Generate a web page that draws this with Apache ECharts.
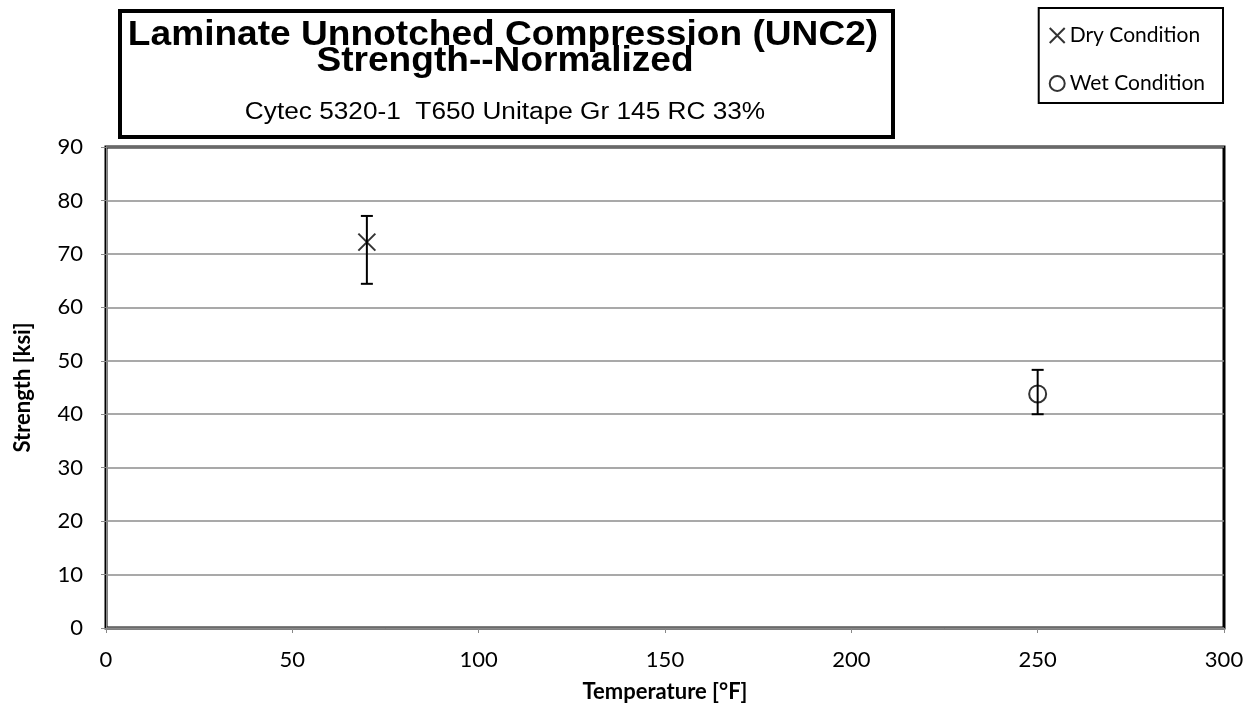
<!DOCTYPE html>
<html><head><meta charset="utf-8">
<script src="https://cdn.jsdelivr.net/npm/echarts@6/dist/echarts.min.js"></script>
<style>html,body{margin:0;padding:0;background:#fff}#c{width:1257px;height:709px}</style>
</head><body><div id="c"></div>
<script>
const titleLine1 = 'Laminate Unnotched Compression (UNC2)';
const titleLine2 = 'Strength--Normalized';
const subTitle = 'Cytec 5320-1  T650 Unitape Gr 145 RC 33%';
const xName = 'Temperature [°F]';
const yName = 'Strength [ksi]';
const seriesNames = ['Dry Condition', 'Wet Condition'];

const dryTemp = [70];
const dryMean = [72.2];
const dryLow = [64.4];
const dryHigh = [77.1];

const wetTemp = [250];
const wetMean = [43.8];
const wetLow = [40.0];
const wetHigh = [48.3];

const xMin = 0, xMax = 300, xStep = 50;
const yMin = 0, yMax = 90, yStep = 10;

const crossPath = 'path://M0,0L10,10M10,0L0,10';
const circlePath = 'path://M0,5A5,5 0 1,0 10,5A5,5 0 1,0 0,5Z';
const lblFont = 'Lato';

function errData(t, lo, hi) { return t.map((v, i) => [v, lo[i], hi[i]]); }
function ptData(t, m) { return t.map((v, i) => [v, m[i]]); }

function errRender(params, api) {
  const x = api.value(0), lo = api.value(1), hi = api.value(2);
  const a = api.coord([x, lo]), b = api.coord([x, hi]);
  const cap = 6;
  const st = { stroke: '#000', lineWidth: 2 };
  return { type: 'group', children: [
    { type: 'line', shape: { x1: a[0], y1: a[1], x2: b[0], y2: b[1] }, style: st },
    { type: 'line', shape: { x1: a[0]-cap, y1: a[1], x2: a[0]+cap, y2: a[1] }, style: st },
    { type: 'line', shape: { x1: b[0]-cap, y1: b[1], x2: b[0]+cap, y2: b[1] }, style: st }
  ]};
}

const chart = echarts.init(document.getElementById('c'));
chart.setOption({
  animation: false,
  backgroundColor: '#fff',
  grid: { left: 106, right: 33, top: 147, bottom: 81, show: true, borderColor: '#000', borderWidth: 3 },
  xAxis: {
    type: 'value', min: xMin, max: xMax, interval: xStep,
    name: xName, nameLocation: 'middle', nameGap: 53,
    nameTextStyle: { fontFamily: lblFont, fontWeight: 'bold', fontSize: 22, color: '#000' },
    axisLine: { show: true, onZero: false, lineStyle: { color: '#888', width: 1 } },
    axisTick: { show: true, length: 5, lineStyle: { color: '#888' } },
    axisLabel: { fontFamily: lblFont, fontSize: 22, color: '#000', margin: 21 },
    splitLine: { show: false }
  },
  yAxis: {
    type: 'value', min: yMin, max: yMax, interval: yStep,
    name: yName, nameLocation: 'middle', nameGap: 72,
    nameTextStyle: { fontFamily: lblFont, fontWeight: 'bold', fontSize: 22, color: '#000' },
    axisLine: { show: true, lineStyle: { color: '#888', width: 1 } },
    axisTick: { show: true, length: 5, lineStyle: { color: '#888' } },
    axisLabel: { fontFamily: lblFont, fontSize: 22, color: '#000', margin: 23 },
    splitLine: { show: true, lineStyle: { color: '#8c8c8c', width: 1.5 } }
  },
  legend: {
    orient: 'vertical', right: 34, top: 8,
    padding: [17, 18, 9, 10], itemGap: 27, itemWidth: 15, itemHeight: 15,
    borderColor: '#000', borderWidth: 2, backgroundColor: '#fff',
    textStyle: { fontFamily: lblFont, fontSize: 21, color: '#000' },
    data: [
      { name: seriesNames[0], icon: crossPath, itemStyle: { color: 'transparent', borderColor: '#000', borderWidth: 2 } },
      { name: seriesNames[1], icon: circlePath, itemStyle: { color: 'transparent', borderColor: '#000', borderWidth: 2 } }
    ]
  },
  graphic: [
    { type: 'rect', left: 118, top: 9, z: 10, shape: { width: 773, height: 126 }, style: { fill: '#fff', stroke: '#000', lineWidth: 4 } },
    { type: 'text', x: 503, y: 35, scaleX: 1.06, z: 11, style: { text: titleLine1, font: 'bold 35px "Liberation Sans"', fill: '#000', textAlign: 'center', textVerticalAlign: 'middle' } },
    { type: 'text', x: 505, y: 61, scaleX: 1.06, z: 11, style: { text: titleLine2, font: 'bold 35px "Liberation Sans"', fill: '#000', textAlign: 'center', textVerticalAlign: 'middle' } },
    { type: 'text', x: 505, y: 113, scaleX: 1.14, z: 11, style: { text: subTitle, font: '23px "Liberation Sans"', fill: '#000', textAlign: 'center', textVerticalAlign: 'middle' } }
  ],
  series: [
    { type: 'custom', name: 'dryErr', renderItem: errRender, data: errData(dryTemp, dryLow, dryHigh), z: 3, silent: true },
    { type: 'custom', name: 'wetErr', renderItem: errRender, data: errData(wetTemp, wetLow, wetHigh), z: 3, silent: true },
    { type: 'scatter', name: seriesNames[0], symbol: crossPath, symbolSize: 17, data: ptData(dryTemp, dryMean), z: 4,
      itemStyle: { color: 'transparent', borderColor: '#000', borderWidth: 2 } },
    { type: 'scatter', name: seriesNames[1], symbol: circlePath, symbolSize: 17, data: ptData(wetTemp, wetMean), z: 4,
      itemStyle: { color: 'transparent', borderColor: '#000', borderWidth: 2 } }
  ]
});
</script>
</body></html>
